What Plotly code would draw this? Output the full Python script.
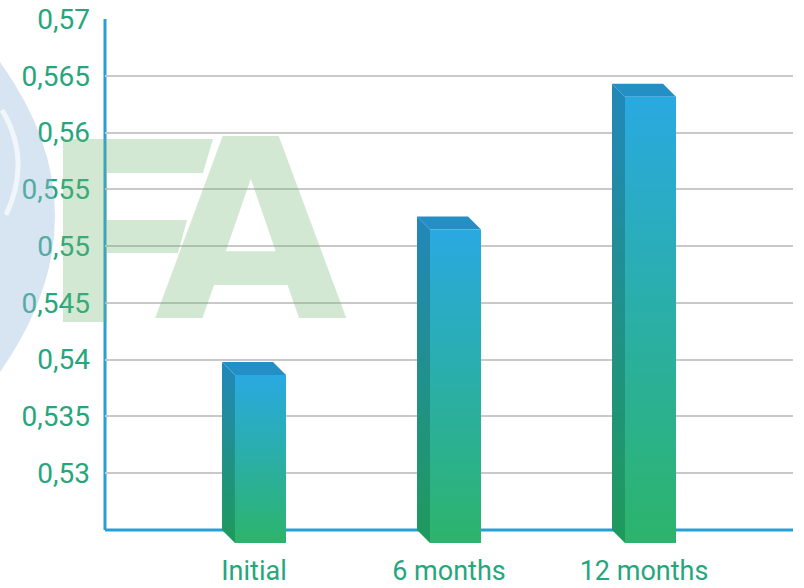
import plotly.graph_objects as go

# ---------------- data ----------------
categories = ["Initial", "6 months", "12 months"]
values = [0.5398, 0.5526, 0.5643]
y_tick_values = [0.53, 0.535, 0.54, 0.545, 0.55, 0.555, 0.56, 0.565, 0.57]
y_tick_labels = ["0,53", "0,535", "0,54", "0,545", "0,55", "0,555", "0,56", "0,565", "0,57"]
y_base = 0.525

# ---------------- style / geometry ----------------
W, H = 804, 588
M_L, M_R, M_T, M_B = 105, 11, 19, 43
X_RANGE = [-0.764, 2.764]
PX_PER_X = (W - M_L - M_R) / (X_RANGE[1] - X_RANGE[0])
PX_PER_Y = 56.78 / 0.005
Y_RANGE = [y_base - 15 / PX_PER_Y, 0.57]

HALF = 32 / PX_PER_X        # half of combined (front+depth) extent
DEPTH_X = 13 / PX_PER_X
DEPTH_Y = 13 / PX_PER_Y

GREEN = "#2cb46b"
BLUE = "#29a9e1"
SIDE_GREEN = "#1f9a5b"
SIDE_BLUE = "#2287bb"
TOP_COLOR = "#248fc4"
TEXT_COLOR = "#27a67d"
AXIS_BLUE = "#2a9fd6"
FONT_SIZE = 28

fig = go.Figure()


def poly(xs, ys, **fill):
    fig.add_trace(go.Scatter(
        x=xs + [xs[0]], y=ys + [ys[0]], mode="lines", fill="toself",
        line=dict(width=0, color="rgba(0,0,0,0)"), hoverinfo="skip",
        showlegend=False, **fill))


for i, v in enumerate(values):
    bl = i - HALF            # back left
    br = i + HALF - DEPTH_X  # back right
    fl = i - HALF + DEPTH_X  # front left
    fr = i + HALF            # front right
    # left side face
    poly([bl, fl, fl, bl], [v, v - DEPTH_Y, y_base - DEPTH_Y, y_base],
         fillgradient=dict(type="vertical",
                           colorscale=[[0, SIDE_GREEN], [1, SIDE_BLUE]]))
    # top face
    poly([bl, br, fr, fl], [v, v, v - DEPTH_Y, v - DEPTH_Y],
         fillcolor=TOP_COLOR)
    # front face
    poly([fl, fr, fr, fl], [y_base - DEPTH_Y, y_base - DEPTH_Y, v - DEPTH_Y, v - DEPTH_Y],
         fillgradient=dict(type="vertical",
                           colorscale=[[0, GREEN], [1, BLUE]]))

# axis lines
fig.add_shape(type="line", xref="paper", yref="y", x0=0, x1=1,
              y0=y_base, y1=y_base, line=dict(color=AXIS_BLUE, width=3), layer="below")
fig.add_shape(type="line", xref="paper", yref="y", x0=0, x1=0,
              y0=y_base, y1=Y_RANGE[1], line=dict(color=AXIS_BLUE, width=3), layer="below")

# watermark (decorative)
PW, PH = W - M_L - M_R, H - M_T - M_B


def px(xp):
    return (xp - M_L) / PW


def py(yp):
    return (H - M_B - yp) / PH


def path_from(points):
    return "M " + " L ".join(f"{px(a)} {py(b)}" for a, b in points) + " Z"


WM_COLOR = "rgba(110,180,110,0.3)"
fig.add_shape(type="path", xref="paper", yref="paper",
              path=(f"M {px(0)} {py(62)} Q {px(110)} {py(215)} {px(0)} {py(372)} "
                    f"Q {px(-25)} {py(215)} {px(0)} {py(62)} Z"),
              fillcolor="rgba(150,185,222,0.38)", line=dict(width=0), layer="above")
fig.add_shape(type="path", xref="paper", yref="paper",
              path=(f"M {px(2)} {py(110)} Q {px(32)} {py(160)} {px(6)} {py(215)}"),
              line=dict(color="rgba(255,255,255,0.65)", width=5), layer="above")
F_OUTLINE = [(63, 139), (213, 139), (203, 173), (107, 173), (107, 220), (187, 220),
             (178, 253), (107, 253), (107, 322), (63, 322)]
fig.add_shape(type="path", xref="paper", yref="paper", path=path_from(F_OUTLINE),
              fillcolor=WM_COLOR, line=dict(width=0), layer="above")
fig.add_annotation(text="<b>A</b>", xref="paper", yref="paper", x=px(250), y=py(231),
                   xanchor="center", yanchor="middle", showarrow=False,
                   font=dict(family="DejaVu Sans", size=250, color=WM_COLOR))

fig.update_layout(
    width=W, height=H, margin=dict(l=M_L, r=M_R, t=M_T, b=M_B, autoexpand=False),
    plot_bgcolor="white", paper_bgcolor="white", showlegend=False,
    font=dict(family="Roboto", size=FONT_SIZE, color=TEXT_COLOR),
    xaxis=dict(range=X_RANGE, tickvals=list(range(len(categories))), ticktext=categories,
               showgrid=False, zeroline=False, showline=False, ticks="", automargin=False,
               ticklabelstandoff=7, tickfont=dict(size=27, color=TEXT_COLOR)),
    yaxis=dict(range=Y_RANGE, tickvals=y_tick_values, ticktext=y_tick_labels,
               showgrid=True, gridcolor="#c9c9c9", gridwidth=1.5, zeroline=False,
               showline=False, ticks="", ticklabelstandoff=14, automargin=False,
               tickfont=dict(size=FONT_SIZE, color=TEXT_COLOR)),
)

fig.write_html("out.html")
